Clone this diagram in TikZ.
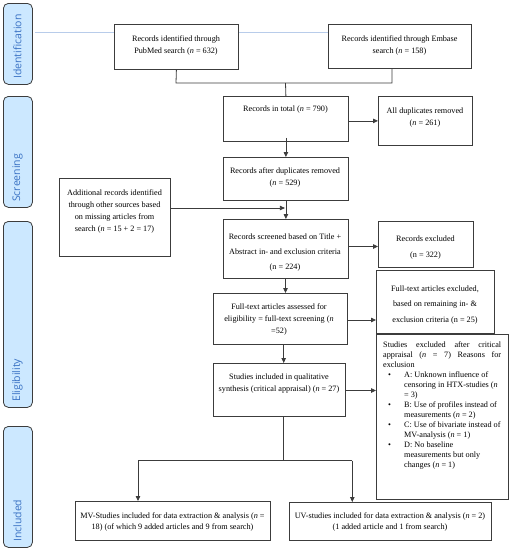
\documentclass[tikz,border=0pt]{standalone}
\usepackage{fontspec}
\setmainfont{Liberation Serif}
\newfontfamily\sidefont{Open Sans}
\usetikzlibrary{arrows.meta}
\definecolor{sidefill}{HTML}{CCE8FF}
\definecolor{sidetext}{HTML}{3A72C4}
\definecolor{lineblue}{HTML}{B8CCEA}
\definecolor{boxline}{HTML}{3C3C3C}
\begin{document}
\begin{tikzpicture}[x=1pt,y=-1pt,
  box/.style={draw=boxline, line width=0.8pt, fill=white, inner sep=0pt, anchor=north west},
  txt/.style={font=\fontsize{8.2}{#1}\selectfont, align=center, inner sep=0pt},
  txt/.default=12,
  side/.style={draw=boxline, line width=0.8pt, fill=sidefill, rounded corners=5pt, anchor=north west, inner sep=0pt, minimum width=29pt},
  sidelab/.style={font=\sidefont\fontsize{10.5}{12}\selectfont, text=sidetext, rotate=90, anchor=west, inner sep=0pt},
  conn/.style={draw=boxline, line width=0.8pt},
  arr/.style={conn, -{Triangle[length=5pt,width=4.5pt]}}
]
\useasboundingbox (0,0) rectangle (511,550);

% phase labels
\node[side, minimum height=81pt] (sIdent) at (3,3) {};
\node[sidelab] (lIdent) at (17.5,79) {Identification};
\node[side, minimum height=111pt] (sScreen) at (3,96) {};
\node[sidelab] (lScreen) at (17.5,202) {Screening};
\node[side, minimum height=186pt] (sElig) at (3,221) {};
\node[sidelab] (lElig) at (17.5,402) {Eligibility};
\node[side, minimum height=121pt] (sIncl) at (3,426) {};
\node[sidelab] (lIncl) at (17.5,542) {Included};

% light guide line
\coordinate (g1) at (35,32);
\coordinate (g2) at (328,32);
\draw[lineblue, line width=0.9pt] (g1) -- (g2);

% boxes
\node[box, minimum width=124pt, minimum height=45pt] (pub) at (114,24) {};
\node[box, minimum width=143pt, minimum height=44pt] (emb) at (328,24) {};
\node[box, minimum width=125pt, minimum height=45pt] (total) at (223,96) {};
\node[box, minimum width=94pt, minimum height=49pt] (dup) at (378,96) {};
\node[box, minimum width=125pt, minimum height=43pt] (after) at (223,157) {};
\node[box, minimum width=111pt, minimum height=78pt] (add) at (59,178) {};
\node[box, minimum width=125pt, minimum height=59pt] (scr) at (223,219) {};
\node[box, minimum width=95pt, minimum height=46pt] (exc) at (378,221) {};
\node[box, minimum width=134pt, minimum height=51pt] (ft) at (213,293) {};
\node[box, minimum width=118pt, minimum height=63pt] (ftex) at (376,270) {};
\node[box, minimum width=132pt, minimum height=53pt] (qual) at (213,363) {};
\node[box, minimum width=132pt, minimum height=165pt] (crit) at (376,334) {};
\node[box, minimum width=195pt, minimum height=39pt] (mv) at (75,501) {};
\node[box, minimum width=202pt, minimum height=38pt] (uv) at (289,502) {};

% texts
\node[txt] (tpub) at (176,45) {Records identified through\\PubMed search (\textit{n} = 632)};
\node[txt] (temb) at (399.5,45) {Records identified through Embase\\search (\textit{n} = 158)};
\node[txt] (ttotal) at (285.5,110) {Records in total (\textit{n} = 790)};
\node[txt] (tdup) at (425,117.5) {All duplicates removed\\(\textit{n} = 261)};
\node[txt] (tafter) at (285,177.5) {Records after duplicates removed\\(\textit{n} = 529)};
\node[txt] (tadd) at (114.5,211) {Additional records identified\\through other sources based\\on missing articles from\\search (\textit{n} = 15 + 2 = 17)};
\node[txt=15] (tscr) at (285,253) {Records screened based on Title +\\Abstract in- and exclusion criteria\\(n = 224)};
\node[txt=16] (texc) at (425.5,247.5) {Records excluded\\(n = 322)};
\node[txt] (tft) at (279,319.5) {Full-text articles assessed for\\eligibility = full-text screening (\textit{n}\\=52)};
\node[txt=15.8] (tftex) at (435,305) {Full-text articles excluded,\\based on remaining in- \&\\exclusion criteria (n = 25)};
\node[txt] (tqual) at (279,384) {Studies included in qualitative\\synthesis (critical appraisal) (\textit{n} = 27)};
\node[txt=11.5] (tmv) at (172.5,522) {MV-Studies included for data extraction \& analysis (\textit{n} =\\18) (of which 9 added articles and 9 from search)};
\node[txt=11.5] (tuv) at (390,522) {UV-studies included for data extraction \& analysis (\textit{n} = 2)\\(1 added article and 1 from search)};
\node[inner sep=0pt, anchor=north west] (tcrit) at (383,341.5) {\parbox[t]{120pt}{\fontsize{8.2}{10}\selectfont
\makebox[118pt][s]{Studies excluded after critical}\\
\makebox[118pt][s]{appraisal (\textit{n} = 7) Reasons for}\\
exclusion\\
\hspace*{5pt}\makebox[16pt][l]{\textbullet}A: Unknown influence of\\
\hspace*{21pt}censoring in HTX-studies (\textit{n}\\
\hspace*{21pt}= 3)\\
\hspace*{5pt}\makebox[16pt][l]{\textbullet}B: Use of profiles instead of\\
\hspace*{21pt}measurements (\textit{n} = 2)\\
\hspace*{5pt}\makebox[16pt][l]{\textbullet}C: Use of bivariate instead of\\
\hspace*{21pt}MV-analysis (\textit{n} = 1)\\
\hspace*{5pt}\makebox[16pt][l]{\textbullet}D: No baseline\\
\hspace*{21pt}measurements but only\\
\hspace*{21pt}changes (\textit{n} = 1)}};

% connectors
\coordinate (mL) at (176,83);
\coordinate (mR) at (392,83);
\coordinate (mC) at (285.5,83);
\draw[conn] (pub.south) -- (mL) -- (mR) -- (mR |- emb.south);
\draw[conn] (mC) -- (total.north);
\draw[arr] (total.east |- dup.west) -- (dup.west);
\draw[arr] ([yshift=4pt]total.south) -- (after.north);
\draw[arr] (after.south) -- (scr.north);
\coordinate (jAdd) at (285.5,208);
\draw[arr, shorten >=0.6pt] (add.east |- jAdd) -- (jAdd);
\coordinate (yExc) at (0,246.5);
\draw[arr] (scr.east |- yExc) -- (exc.west |- yExc);
\draw[arr] (scr.south -| jAdd) -- (jAdd |- ft.north);
\coordinate (yFtex) at (0,320);
\draw[arr] (ft.east |- yFtex) -- (ftex.west |- yFtex);
\coordinate (xQ) at (283.7,0);
\draw[arr] (ft.south -| xQ) -- (xQ |- qual.north);
\coordinate (yCrit) at (0,390.5);
\draw[arr] (qual.east |- yCrit) -- (crit.west |- yCrit);
\coordinate (split) at (283.7,460.5);
\coordinate (sL) at (138,460.5);
\coordinate (sR) at (352.3,460.5);
\draw[conn] (qual.south -| split) -- (split);
\draw[conn] (sL) -- (sR);
\draw[arr] (sL) -- (sL |- mv.north);
\draw[arr] (sR) -- (sR |- uv.north);
\end{tikzpicture}
\end{document}
